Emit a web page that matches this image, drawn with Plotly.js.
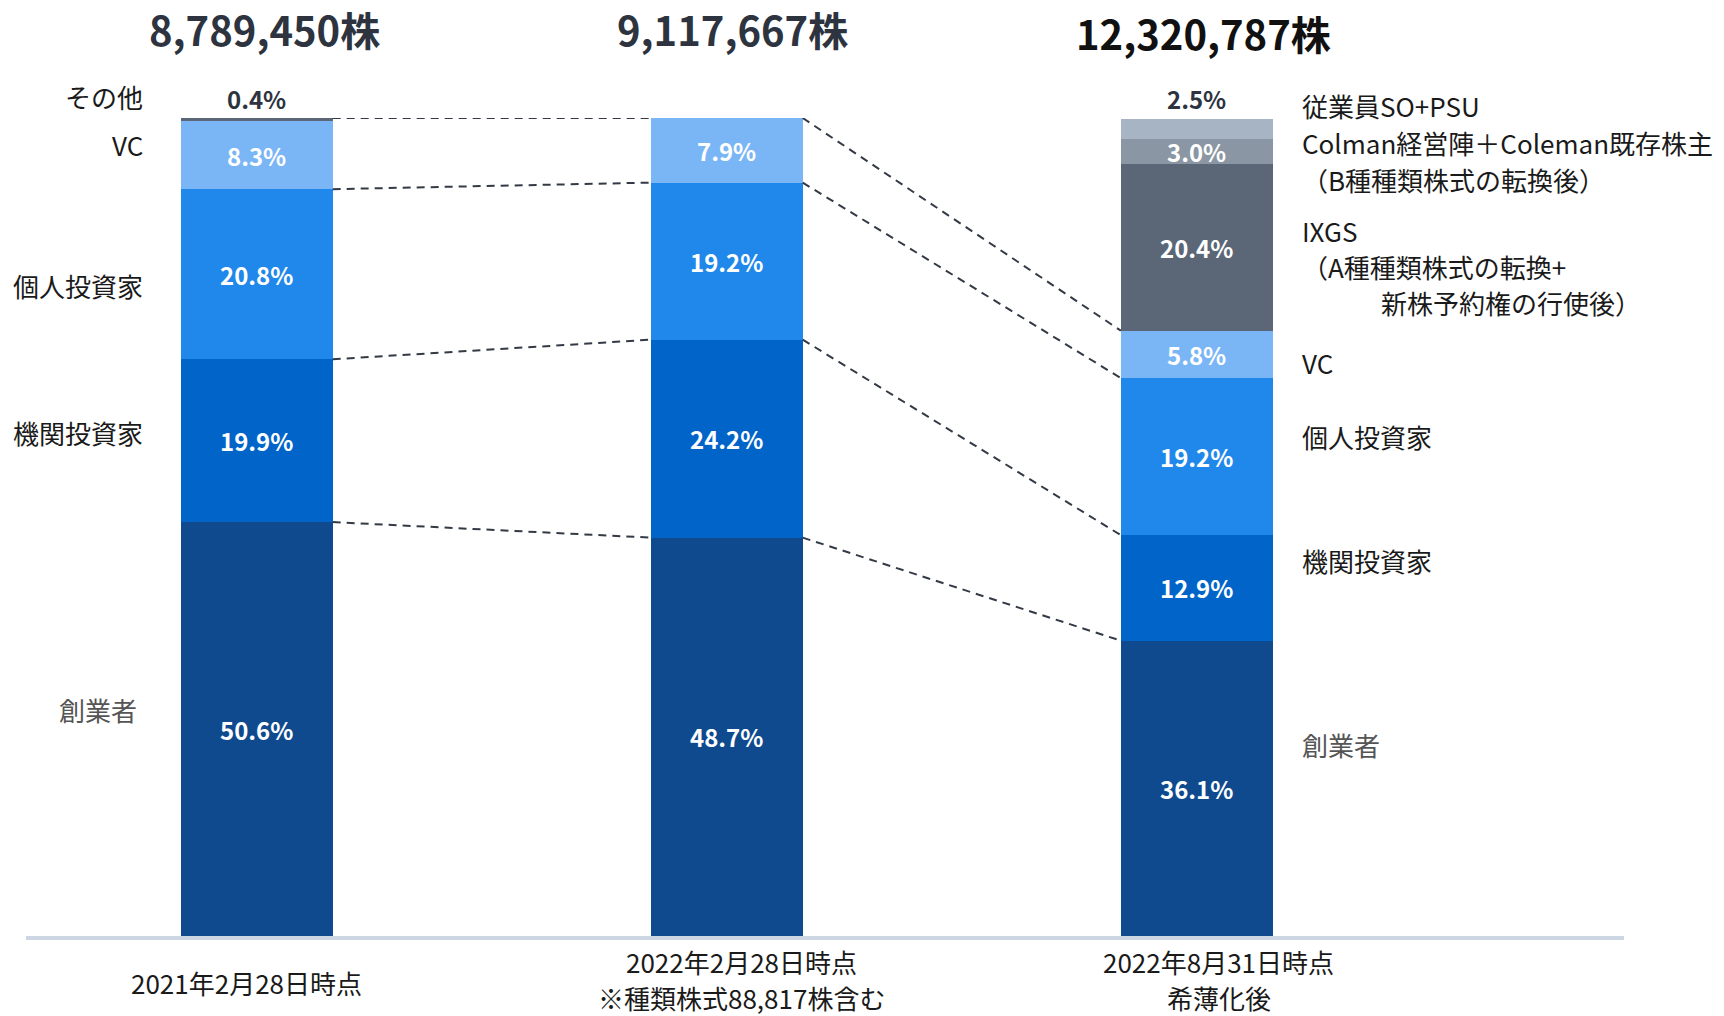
<!DOCTYPE html>
<html>
<head>
<meta charset="utf-8">
<script src="https://cdn.plot.ly/plotly-3.0.1.min.js"></script>
<style>
  html, body { margin: 0; padding: 0; background: #ffffff; }
  #chart { width: 1724px; height: 1016px; }
</style>
</head>
<body>
<div id="chart"></div>
<script>
// ---- data ----
const categories = ['2021年2月28日時点', '2022年2月28日時点', '2022年8月31日時点'];
const categoryNotes = ['', '※種類株式88,817株含む', '希薄化後'];
const totalShares = ['8,789,450株', '9,117,667株', '12,320,787株'];

const founders      = [50.6, 48.7, 36.1];
const institutional = [19.9, 24.2, 12.9];
const individual    = [20.8, 19.2, 19.2];
const vc            = [8.3, 7.9, 5.8];
const others        = [0.4, null, null];
const ixgs          = [null, null, 20.4];
const colman        = [null, null, 3.0];
const employeeSO    = [null, null, 2.5];

const seriesNames = ['創業者', '機関投資家', '個人投資家', 'VC', 'その他', 'IXGS', 'Colman経営陣＋Coleman既存株主', '従業員SO+PSU'];

// ---- styles ----
const FONT = "'Noto Sans CJK JP', 'Noto Sans', sans-serif";
const seriesValues = [founders, institutional, individual, vc, others, ixgs, colman, employeeSO];
const seriesColors = ['#0f4a8f', '#0064c9', '#2188eb', '#7ab6f5', '#5b6777', '#5b6777', '#8a96a3', '#a6b4c4'];
const labelAbove   = [false, false, false, false, true, false, false, true];
const BAR_W = 0.323;
const xIdx = categories.map((_, i) => i);

const traces = [];
seriesValues.forEach((vals, s) => {
  traces.push({
    type: 'bar',
    name: seriesNames[s],
    x: xIdx,
    y: vals,
    width: BAR_W,
    marker: { color: seriesColors[s], line: { width: 0 } },
    hoverinfo: 'skip',
    showlegend: false
  });
});

// cumulative tops
const cumTop = seriesValues.map(() => xIdx.map(() => null));
const stackTop = xIdx.map(() => 0);
seriesValues.forEach((vals, s) => {
  vals.forEach((v, i) => {
    if (v != null) {
      stackTop[i] += v;
      cumTop[s][i] = stackTop[i];
    }
  });
});

// dashed connectors between neighbouring bars for shared series
for (let i = 0; i < xIdx.length - 1; i++) {
  const shared = [];
  seriesValues.forEach((vals, s) => {
    if (vals[i] != null && vals[i + 1] != null) shared.push(s);
  });
  shared.forEach((s, k) => {
    const yL = (k === shared.length - 1) ? stackTop[i] : cumTop[s][i];
    const yR = cumTop[s][i + 1];
    traces.push({
      type: 'scatter', mode: 'lines',
      x: [i + BAR_W / 2, i + 1 - BAR_W / 2],
      y: [yL, yR],
      line: { color: '#333a45', width: 2, dash: '8px,6px' },
      hoverinfo: 'skip', showlegend: false
    });
  });
}

const annotations = [];

// percentage labels
seriesValues.forEach((vals, s) => {
  vals.forEach((v, i) => {
    if (v == null) return;
    const above = labelAbove[s];
    annotations.push({
      xref: 'x', yref: 'y',
      x: i, y: above ? stackTop[i] : cumTop[s][i] - v / 2,
      yshift: above ? 20 : 0,
      text: '<b>' + v.toFixed(1) + '%</b>',
      showarrow: false, xanchor: 'center', yanchor: 'middle',
      font: { family: FONT, size: 24, color: above ? '#2d3440' : '#ffffff' }
    });
  });
});

// total shares on top
const titleShift = [8, 6, 7];
const titleY = [1.109, 1.109, 1.104];
const titleColor = ['#2d3440', '#2d3440', '#111111'];
totalShares.forEach((t, i) => {
  annotations.push({
    xref: 'x', yref: 'paper', x: i, y: titleY[i], xshift: titleShift[i],
    text: '<b>' + t + '</b>', showarrow: false, xanchor: 'center', yanchor: 'middle',
    font: { family: FONT, size: 40, color: titleColor[i] }
  });
});

// category labels below axis
const catShift = [-10, 15, 22];
categories.forEach((c, i) => {
  const lines = categoryNotes[i] ? [c, categoryNotes[i]] : [c];
  lines.forEach((ln, k) => {
    const yPx = lines.length === 1 ? 0 : (k === 0 ? -21 : 15);
    annotations.push({
      xref: 'x', yref: 'paper', x: i, y: -0.0565, xshift: catShift[i], yshift: -yPx,
      text: ln, showarrow: false, xanchor: 'center', yanchor: 'middle',
      font: { family: FONT, size: 26, color: '#1a1a1a' }
    });
  });
});

// side labels (left of first bar, right of last bar); y in percent of plot height
const leftLabels = [
  { text: 'その他', y: 102.6, dx: -36, color: '#1a1a1a' },
  { text: 'VC', y: 96.7, dx: -36, color: '#1a1a1a' },
  { text: '個人投資家', y: 79.5, dx: -36, color: '#1a1a1a' },
  { text: '機関投資家', y: 61.6, dx: -36, color: '#1a1a1a' },
  { text: '創業者', y: 27.7, dx: -42, color: '#555555' }
];
leftLabels.forEach(l => {
  annotations.push({
    xref: 'x', yref: 'paper', x: 0 - BAR_W / 2, y: l.y / 100, xshift: l.dx,
    text: l.text, showarrow: false, xanchor: 'right', yanchor: 'middle',
    font: { family: FONT, size: 26, color: l.color }
  });
});
const last = xIdx.length - 1;
const rightLabels = [
  { text: '従業員SO+PSU', y: 101.5, dx: 27, color: '#1a1a1a' },
  { text: 'Colman経営陣＋Coleman既存株主', y: 96.95, dx: 27, color: '#1a1a1a' },
  { text: '（B種種類株式の転換後）', y: 92.5, dx: 27, color: '#1a1a1a' },
  { text: 'IXGS', y: 86.3, dx: 27, color: '#1a1a1a' },
  { text: '（A種種類株式の転換+', y: 81.9, dx: 27, color: '#1a1a1a' },
  { text: '新株予約権の行使後）', y: 77.5, dx: 106, color: '#1a1a1a' },
  { text: 'VC', y: 70.1, dx: 27, color: '#1a1a1a' },
  { text: '個人投資家', y: 61.1, dx: 27, color: '#1a1a1a' },
  { text: '機関投資家', y: 45.9, dx: 27, color: '#1a1a1a' },
  { text: '創業者', y: 23.4, dx: 27, color: '#555555' }
];
rightLabels.forEach(l => {
  annotations.push({
    xref: 'x', yref: 'paper', x: last + BAR_W / 2, y: l.y / 100, xshift: l.dx,
    text: l.text, showarrow: false, xanchor: 'left', yanchor: 'middle',
    font: { family: FONT, size: 26, color: l.color }
  });
});

const layout = {
  width: 1724, height: 1016,
  margin: { l: 26, r: 100, t: 118, b: 80, pad: 0 },
  paper_bgcolor: '#ffffff', plot_bgcolor: '#ffffff',
  barmode: 'stack',
  xaxis: {
    range: [-0.491, 2.909], showgrid: false, zeroline: false,
    showticklabels: false, ticks: '', showline: true,
    linecolor: '#cdd6e3', linewidth: 4, fixedrange: true
  },
  yaxis: {
    range: [0, 100], visible: false, showgrid: false, zeroline: false, fixedrange: true
  },
  annotations: annotations,
  font: { family: FONT }
};

Plotly.newPlot('chart', traces, layout, { displayModeBar: false, staticPlot: true });
</script>
</body>
</html>
